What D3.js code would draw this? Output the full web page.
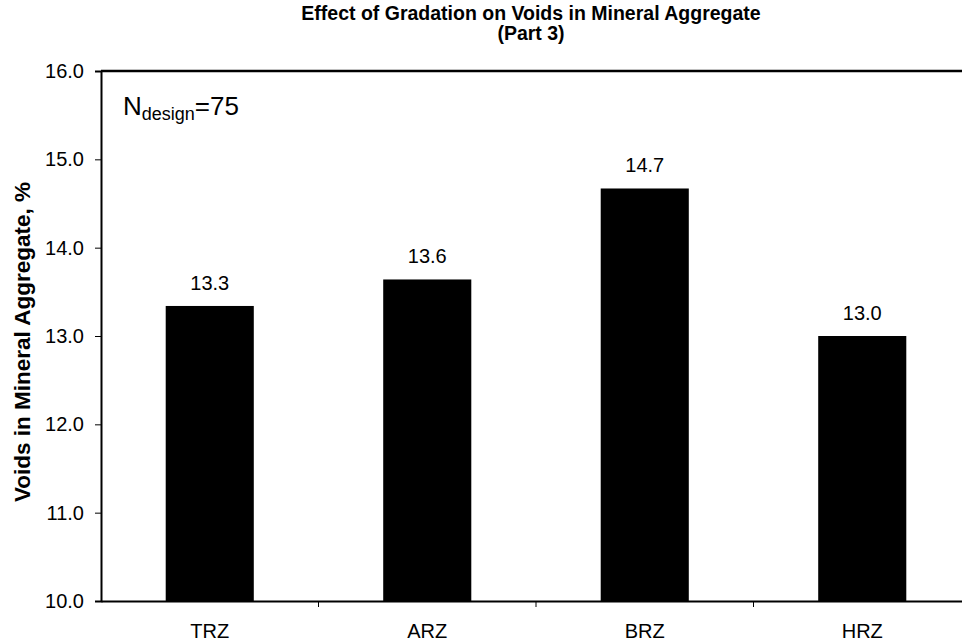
<!DOCTYPE html>
<html><head><meta charset="utf-8">
<script src="https://cdn.jsdelivr.net/npm/d3@7"></script>
<style>body{margin:0;background:#fff}svg{display:block;font-family:"Liberation Sans",Arial,sans-serif}</style>
</head><body><svg id="c" width="962" height="642"></svg>
<script>
const categories = ["TRZ","ARZ","BRZ","HRZ"];
const values = [13.34, 13.64, 14.67, 13.0];
const yTicks = [10,11,12,13,14,15,16];
const titleLines = ["Effect of Gradation on Voids in Mineral Aggregate","(Part 3)"];
const yTitle = "Voids in Mineral Aggregate, %";

const svg = d3.select("#c");
const L = 101, R = 971, T = 71, B = 601;
const x = d3.scaleBand().domain(categories).range([L, R]);
const y = d3.scaleLinear().domain([10,16]).range([B, T]);
const bw = x.bandwidth(), barW = bw*0.405;
const FF = "Liberation Sans, Arial, sans-serif";

svg.append("g").selectAll("rect").data(categories).join("rect")
  .attr("x", d => x(d) + (bw-barW)/2)
  .attr("y", (d,i) => y(values[i]))
  .attr("width", barW)
  .attr("height", (d,i) => B - y(values[i]))
  .attr("fill", "#000");

svg.append("g").selectAll("text").data(categories).join("text")
  .attr("x", d => x(d) + bw/2)
  .attr("y", (d,i) => y(values[i]) - 16)
  .attr("text-anchor","middle").attr("font-size",20)
  .text((d,i) => d3.format(".1f")(values[i]));

// y axis
const ya = svg.append("g").attr("transform",`translate(${L},0)`)
  .call(d3.axisLeft(y).tickValues(yTicks).tickFormat(d3.format(".1f")).tickSize(6).tickPadding(11));
ya.select(".domain").attr("stroke-width",2);
ya.selectAll("text").attr("font-size",20).attr("font-family",FF).attr("fill","#000");

// x axis with ticks at band boundaries
const xa = svg.append("g").attr("transform",`translate(0,${B})`)
  .call(d3.axisBottom(x).tickSize(0).tickPadding(23));
xa.select(".domain").attr("stroke-width",2);
xa.selectAll("text").attr("font-size",20).attr("font-family",FF).attr("fill","#000");
xa.selectAll(".bt").data(categories.slice(1)).join("line").attr("class","bt")
  .attr("x1", d => x(d)).attr("x2", d => x(d)).attr("y1",0).attr("y2",6).attr("stroke","#000");

// top border
svg.append("line").attr("x1",L).attr("x2",R).attr("y1",T).attr("y2",T).attr("stroke","#000").attr("stroke-width",2.5);

// title
svg.append("g").selectAll("text").data(titleLines).join("text")
  .attr("x",531).attr("y",(d,i)=>20+i*20).attr("text-anchor","middle")
  .attr("font-size",19.5).attr("font-weight","bold").text(d=>d);

// y title
svg.append("text").attr("transform",`translate(30,${342}) rotate(-90)`)
  .attr("text-anchor","middle").attr("font-size",22.5).attr("font-weight","bold").text(yTitle);

// N design annotation
const n = svg.append("text").attr("x",123).attr("y",115).attr("font-size",26);
n.append("tspan").text("N");
n.append("tspan").attr("font-size",18).attr("dy",5).text("design");
n.append("tspan").attr("dy",-5).text("=75");
</script></body></html>
